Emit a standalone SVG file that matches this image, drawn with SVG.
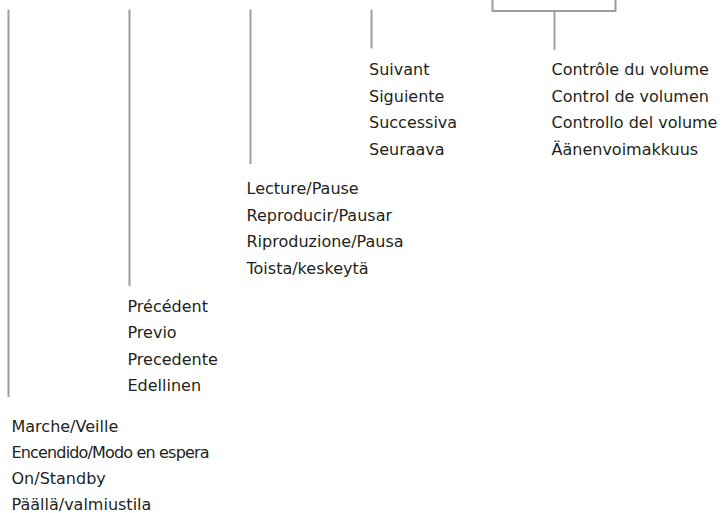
<svg xmlns="http://www.w3.org/2000/svg" width="724" height="513" viewBox="0 0 724 513">
<style>
.bg{fill:#ffffff}
.ln{stroke:#9d9d9f;stroke-width:2;fill:none}
.t{font-family:"DejaVu Sans","Liberation Sans",sans-serif;font-size:16px;fill:#231f20}
</style>
<rect class="bg" x="0" y="0" width="724" height="513"/>
<g id="connectors">
<line class="ln" x1="8.5" y1="9.5" x2="8.5" y2="397"/>
<line class="ln" x1="129.5" y1="9.5" x2="129.5" y2="286"/>
<line class="ln" x1="250.5" y1="9.5" x2="250.5" y2="164"/>
<line class="ln" x1="371.5" y1="9.5" x2="371.5" y2="48.5"/>
<polyline class="ln" points="492.5,0 492.5,11 615.5,11 615.5,0"/>
<line class="ln" x1="554.5" y1="11" x2="554.5" y2="50"/>
</g>
<g id="power">
<text class="t" x="11.5" y="431.5">Marche/Veille</text>
<text class="t" x="11.5" y="457.5" textLength="198" lengthAdjust="spacing">Encendido/Modo en espera</text>
<text class="t" x="11.5" y="483.5">On/Standby</text>
<text class="t" x="11.5" y="509.5">Päällä/valmiustila</text>
</g>
<g id="previous">
<text class="t" x="127.5" y="311.5">Précédent</text>
<text class="t" x="127.5" y="338">Previo</text>
<text class="t" x="127.5" y="364.5">Precedente</text>
<text class="t" x="127.5" y="391">Edellinen</text>
</g>
<g id="playpause">
<text class="t" x="246.5" y="194">Lecture/Pause</text>
<text class="t" x="246.5" y="220.5">Reproducir/Pausar</text>
<text class="t" x="246.5" y="247">Riproduzione/Pausa</text>
<text class="t" x="246.5" y="273.5">Toista/keskeytä</text>
</g>
<g id="next">
<text class="t" x="369" y="75">Suivant</text>
<text class="t" x="369" y="101.5">Siguiente</text>
<text class="t" x="369" y="128">Successiva</text>
<text class="t" x="369" y="154.5">Seuraava</text>
</g>
<g id="volume">
<text class="t" x="551.5" y="75">Contrôle du volume</text>
<text class="t" x="551.5" y="101.5">Control de volumen</text>
<text class="t" x="551.5" y="128">Controllo del volume</text>
<text class="t" x="551.5" y="154.5">Äänenvoimakkuus</text>
</g>
</svg>
